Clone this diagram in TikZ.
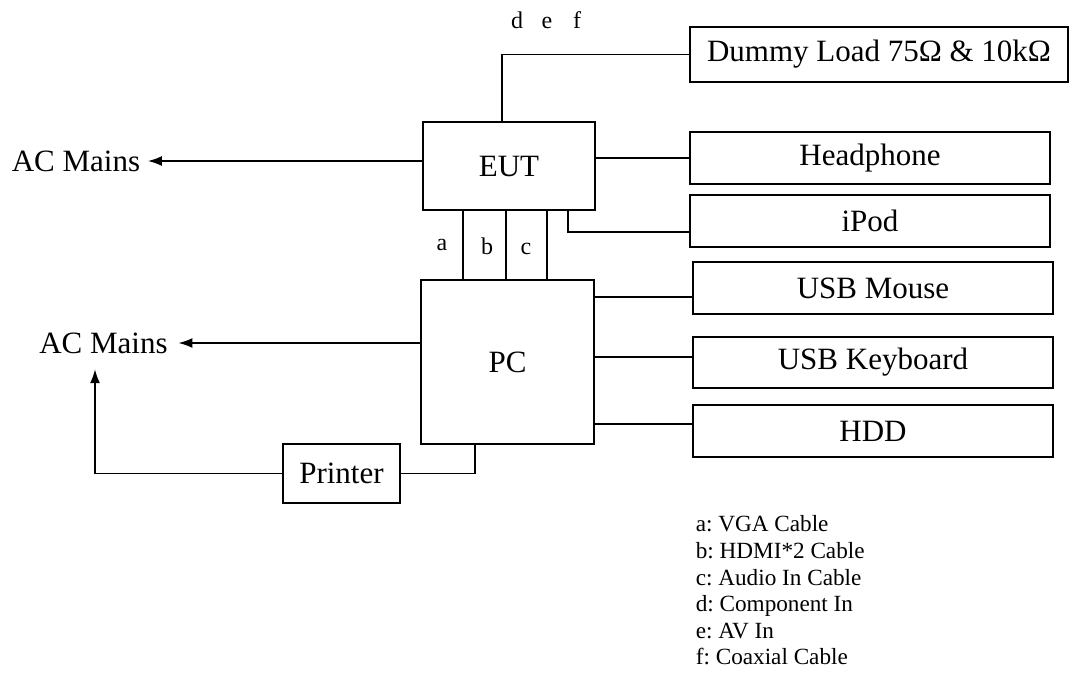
\documentclass[tikz,border=0pt]{standalone}
\usepackage{fontspec}
\setmainfont{Liberation Serif}
\usetikzlibrary{arrows.meta}
\frenchspacing
\begin{document}
\begin{tikzpicture}[x=0.5pt, y=-0.5pt, line width=0.8pt,
  box/.style={draw, inner sep=0, font=\fontsize{15.5}{18}\selectfont},
  mains/.style={inner sep=0, font=\fontsize{15.5}{18}\selectfont},
  lbl/.style={inner sep=0, anchor=base, font=\fontsize{12}{14}\selectfont},
  >={Latex[length=7pt,width=5pt]}]
\useasboundingbox (0,0) rectangle (1078,681);

\node[box, minimum width=86pt, minimum height=44pt] (eut) at (509,166){EUT};
\node[box, minimum width=189pt, minimum height=27.5pt] (dummy) at (879,54.5){Dummy Load 75Ω \& 10kΩ};
\node[box, minimum width=180pt, minimum height=26pt] (headphone) at (870,158){Headphone};
\node[box, minimum width=180pt, minimum height=26pt] (ipod) at (870,221){iPod};
\node[box, minimum width=86.5pt, minimum height=82pt] (pc) at (507.5,362){PC};
\node[box, minimum width=180pt, minimum height=26pt] (mouse) at (873,288){USB Mouse};
\node[box, minimum width=180pt, minimum height=25.5pt] (keyboard) at (873,362.5){USB Keyboard};
\node[box, minimum width=180pt, minimum height=26pt] (hdd) at (873,431){HDD};
\node[box, minimum width=58.5pt, minimum height=29.5pt] (printer) at (341.5,473.5){Printer};
\node[mains] (acmain1) at (76,161){AC Mains};
\node[mains] (acmain2) at (103.5,343){AC Mains};

% cable labels
\node[lbl] (la) at (442,250){a};
\node[lbl] (lb) at (487,254){b};
\node[lbl] (lc) at (526,254){c};
\node[lbl] (ld) at (517,28){d};
\node[lbl] (le) at (547,28){e};
\node[lbl] (lf) at (577,28){f};

% EUT connections
\draw (eut.north -| 502,0) |- (dummy.west);
\draw[->] (eut.west |- acmain1) -- ([xshift=3.5pt]acmain1.east);
\draw (headphone.west -| eut.east) -- (headphone.west);
\draw (eut.south -| 568,0) |- (ipod.west |- 0,232);
\draw (eut.south -| 463,0) -- (pc.north -| 463,0);
\draw (eut.south -| 506,0) -- (pc.north -| 506,0);
\draw (eut.south -| 547,0) -- (pc.north -| 547,0);

% PC connections
\draw (pc.east |- 0,297) -- (mouse.west |- 0,297);
\draw (pc.east |- 0,357) -- (keyboard.west |- 0,357);
\draw (pc.east |- 0,424) -- (hdd.west |- 0,424);
\draw[->] (pc.west |- acmain2) -- ([xshift=5pt]acmain2.east);
\draw (printer.east) -| (pc.south -| 475,0);
\draw[->] (printer.west) -| ([xshift=-4.25pt, yshift=-7.5pt]acmain2.south);

\node[inner sep=0, align=left, anchor=north west, font=\fontsize{11.6}{13.3}\selectfont] (legend) at (695,515){a: VGA Cable\\b: HDMI*2 Cable\\c: Audio In Cable\\d: Component In\\e: AV In\\f: Coaxial Cable};
\end{tikzpicture}
\end{document}
